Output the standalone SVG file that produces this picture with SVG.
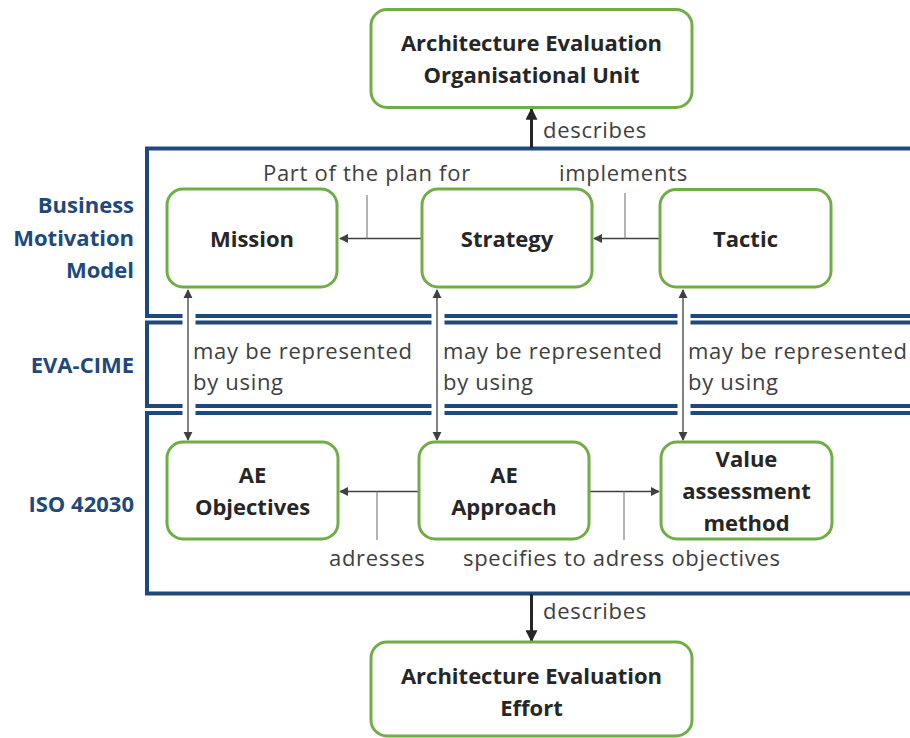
<svg xmlns="http://www.w3.org/2000/svg" width="910" height="738" viewBox="0 0 910 738">
<style>
.band{fill:none;stroke:#1F497D;stroke-width:4}
.node{fill:#fff;stroke:#70AD47;stroke-width:3}
.nt{font-family:"Open Sans",Lato,sans-serif;font-weight:bold;font-size:22px;fill:#262626;text-anchor:middle}
.bl{font-family:"Open Sans",Lato,sans-serif;font-weight:bold;font-size:22px;fill:#1F497D;text-anchor:end}
.lb{font-family:"Open Sans",Lato,sans-serif;font-size:22px;letter-spacing:0.7px;fill:#404040}
.thick{stroke:#262626;stroke-width:3;fill:none}
.thin{stroke:#404040;stroke-width:1.3;fill:none}
.tick{stroke:#808080;stroke-width:1.2;fill:none}
.gap{stroke:#fff;stroke-width:13}
</style>
<defs>
<marker id="ah" viewBox="0 0 10 10" refX="9" refY="5" markerWidth="4" markerHeight="4" orient="auto" markerUnits="strokeWidth"><path d="M0,0 L10,5 L0,10 z" fill="#262626"/></marker>
<marker id="as" viewBox="0 0 10 10" refX="9" refY="5" markerWidth="7" markerHeight="7" orient="auto-start-reverse" markerUnits="strokeWidth"><path d="M0,0 L10,5 L0,10 z" fill="#404040"/></marker>
</defs>
<g id="bands">
<rect class="band" x="147" y="148.5" width="800" height="167.5"/>
<rect class="band" x="147" y="322.5" width="800" height="83.5"/>
<rect class="band" x="147" y="413" width="800" height="180.5"/>
<text class="bl" x="134" y="213">Business</text>
<text class="bl" x="134" y="246">Motivation</text>
<text class="bl" x="134" y="278">Model</text>
<text class="bl" x="134" y="373">EVA-CIME</text>
<text class="bl" x="134" y="512">ISO 42030</text>
</g>
<g id="connectors">
<line class="gap" x1="189" y1="309" x2="189" y2="420"/>
<line class="gap" x1="438" y1="309" x2="438" y2="420"/>
<line class="gap" x1="684" y1="309" x2="684" y2="420"/>
<line class="thick" x1="531.5" y1="148" x2="531.5" y2="109" marker-end="url(#ah)"/>
<line class="thick" x1="531.5" y1="594" x2="531.5" y2="641" marker-end="url(#ah)"/>
<line class="thin" x1="188" y1="290" x2="188" y2="440" marker-start="url(#as)" marker-end="url(#as)"/>
<line class="thin" x1="437" y1="290" x2="437" y2="440" marker-start="url(#as)" marker-end="url(#as)"/>
<line class="thin" x1="683" y1="290" x2="683" y2="440" marker-start="url(#as)" marker-end="url(#as)"/>
<line class="thin" x1="421" y1="238.5" x2="340" y2="238.5" marker-end="url(#as)"/>
<line class="tick" x1="367" y1="195" x2="367" y2="238.5"/>
<line class="thin" x1="659" y1="238.5" x2="594" y2="238.5" marker-end="url(#as)"/>
<line class="tick" x1="625" y1="193" x2="625" y2="238.5"/>
<line class="thin" x1="418" y1="491.5" x2="340" y2="491.5" marker-end="url(#as)"/>
<line class="tick" x1="377" y1="491.5" x2="377" y2="540"/>
<line class="thin" x1="590" y1="491.5" x2="659" y2="491.5" marker-end="url(#as)"/>
<line class="tick" x1="624" y1="491.5" x2="624" y2="540"/>
<text class="lb" x="543" y="138">describes</text>
<text class="lb" x="543" y="619">describes</text>
<text class="lb" x="263" y="181">Part of the plan for</text>
<text class="lb" x="559" y="181">implements</text>
<text class="lb" x="329" y="566">adresses</text>
<text class="lb" x="463" y="566">specifies to adress objectives</text>
<text class="lb" x="193" y="359">may be represented</text>
<text class="lb" x="193" y="390">by using</text>
<text class="lb" x="443" y="359">may be represented</text>
<text class="lb" x="443" y="390">by using</text>
<text class="lb" x="688" y="359">may be represented</text>
<text class="lb" x="688" y="390">by using</text>
</g>
<g id="n-org">
<rect class="node" x="371" y="9.5" width="321" height="98" rx="16"/>
<text class="nt" x="531.5" y="51">Architecture Evaluation</text>
<text class="nt" x="531.5" y="83">Organisational Unit</text>
</g>
<g id="n-mission">
<rect class="node" x="167" y="189" width="170" height="98" rx="16"/>
<text class="nt" x="252" y="247">Mission</text>
</g>
<g id="n-strategy">
<rect class="node" x="422" y="189" width="170" height="98" rx="16"/>
<text class="nt" x="507" y="247">Strategy</text>
</g>
<g id="n-tactic">
<rect class="node" x="660" y="189.5" width="171" height="97.5" rx="16"/>
<text class="nt" x="745.5" y="247">Tactic</text>
</g>
<g id="n-objectives">
<rect class="node" x="167" y="442" width="171" height="97" rx="16"/>
<text class="nt" x="252.5" y="483">AE</text>
<text class="nt" x="252.5" y="515">Objectives</text>
</g>
<g id="n-approach">
<rect class="node" x="419" y="442" width="170" height="97" rx="16"/>
<text class="nt" x="504" y="483">AE</text>
<text class="nt" x="504" y="515">Approach</text>
</g>
<g id="n-value">
<rect class="node" x="661" y="442" width="171" height="97" rx="16"/>
<text class="nt" x="746.5" y="467">Value</text>
<text class="nt" x="746.5" y="499">assessment</text>
<text class="nt" x="746.5" y="531">method</text>
</g>
<g id="n-effort">
<rect class="node" x="371" y="642" width="321" height="94" rx="16"/>
<text class="nt" x="531.5" y="684">Architecture Evaluation</text>
<text class="nt" x="531.5" y="716">Effort</text>
</g>
</svg>
